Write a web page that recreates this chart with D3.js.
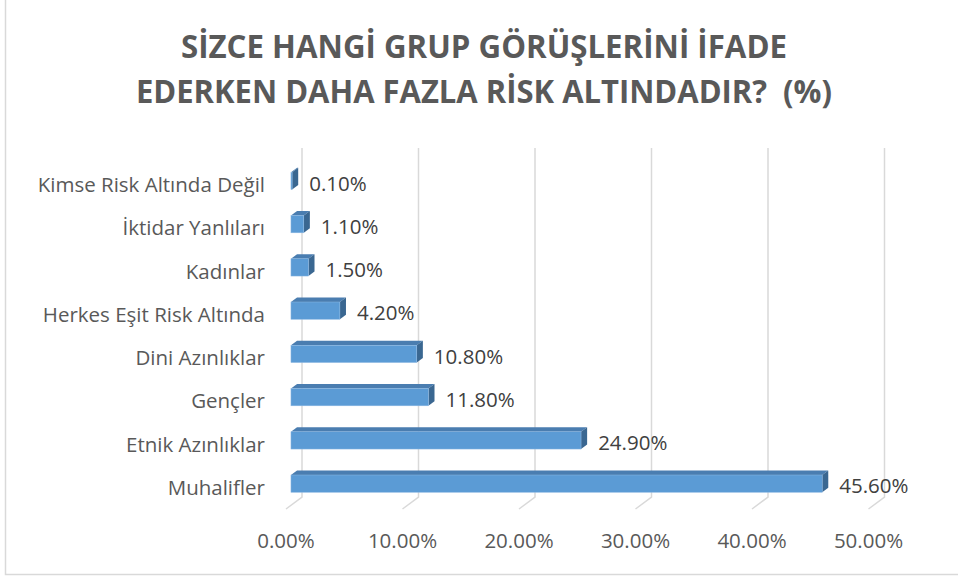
<!DOCTYPE html>
<html>
<head>
<meta charset="utf-8">
<script src="https://cdn.jsdelivr.net/npm/d3@7"></script>
<style>
  body { margin: 0; background: #fff; }
  svg { display: block; font-family: "Open Sans", sans-serif; }
</style>
</head>
<body>
<div id="chart"></div>
<script>
// data, top row first
const titleLines = ["SİZCE HANGİ GRUP GÖRÜŞLERİNİ İFADE", "EDERKEN DAHA FAZLA RİSK ALTINDADIR?  (%)"];
const categories = ["Kimse Risk Altında Değil", "İktidar Yanlıları", "Kadınlar", "Herkes Eşit Risk Altında",
                    "Dini Azınlıklar", "Gençler", "Etnik Azınlıklar", "Muhalifler"];
const values = [0.1, 1.1, 1.5, 4.2, 10.8, 11.8, 24.9, 45.6];
const ticks = [0, 10, 20, 30, 40, 50];

const width = 958, height = 579;

const svg = d3.select("#chart").append("svg")
    .attr("width", width)
    .attr("height", height);

// chart frame (only left + bottom edges show in the picture)
svg.append("rect")
    .attr("x", 5.5).attr("y", -3)
    .attr("width", 970).attr("height", 577.5)
    .attr("fill", "none")
    .attr("stroke", "#d9d9d9")
    .attr("stroke-width", 1.5);

// title
titleLines.forEach((t, i) => {
  svg.append("text")
      .attr("x", 484)
      .attr("y", 58 + i * 45)
      .attr("text-anchor", "middle")
      .attr("textLength", i === 0 ? 606 : 696)
      .attr("lengthAdjust", "spacingAndGlyphs")
      .style("font-size", "32px")
      .style("font-weight", "bold")
      .style("white-space", "pre")
      .attr("fill", "#595959")
      .text(t);
});

// scales on the back wall
const x = d3.scaleLinear().domain([0, 50]).range([302, 884.5]);
const y = d3.scaleBand().domain(categories).range([151, 497]).paddingInner(0.6).paddingOuter(0.3);

// oblique depth: back -> front
const depth = [-16, 12];
const proj = (px, py, d) => [px + depth[0] * d, py + depth[1] * d];
const dBack = 0.31, dFront = 0.69;
const floorY = 497, wallTop = 148;

// gridlines: wall + floor segment
const grid = svg.append("g");
ticks.forEach(t => {
  const f = proj(x(t), floorY, 1);
  grid.append("path")
      .attr("d", `M${x(t)},${wallTop}V${floorY}L${f[0]},${f[1]}`)
      .attr("fill", "none")
      .attr("stroke", "#d9d9d9")
      .attr("stroke-width", 1.5);
  svg.append("text")
      .attr("x", f[0])
      .attr("y", 548)
      .attr("text-anchor", "middle")
      .style("font-size", "20.5px")
      .attr("fill", "#595959")
      .text(d3.format(".2f")(t) + "%");
});

// category labels
svg.append("g").selectAll("text")
    .data(categories)
  .enter().append("text")
    .attr("x", 265)
    .attr("y", d => y(d) + y.bandwidth() / 2 + 19.5)
    .attr("text-anchor", "end")
    .style("font-size", "20.5px")
    .attr("fill", "#595959")
    .text(d => d);

// 3d bars
const pts = arr => arr.map(p => p.join(",")).join(" ");
const bars = svg.append("g").selectAll("g")
    .data(categories.map((c, i) => ({ c, v: values[i] })))
  .enter().append("g");

bars.each(function(d) {
  const g = d3.select(this);
  const x0 = x(0), x1 = x(d.v), y0 = y(d.c), y1 = y(d.c) + y.bandwidth();
  // top face
  g.append("polygon")
      .attr("points", pts([proj(x0, y0, dFront), proj(x1, y0, dFront), proj(x1, y0, dBack), proj(x0, y0, dBack)]))
      .attr("fill", "#4a7db0");
  // right end face
  g.append("polygon")
      .attr("points", pts([proj(x1, y0, dFront), proj(x1, y1, dFront), proj(x1, y1, dBack), proj(x1, y0, dBack)]))
      .attr("fill", "#3a6791");
  // front face
  const f0 = proj(x0, y0, dFront);
  g.append("rect")
      .attr("x", f0[0])
      .attr("y", f0[1])
      .attr("width", x1 - x0)
      .attr("height", y1 - y0)
      .attr("fill", "#5b9bd5")
      .attr("stroke", "#8fb9e3")
      .attr("stroke-width", 0.5);
  // value label
  const b = proj(x1, y0, dBack);
  g.append("text")
      .attr("x", b[0] + 11)
      .attr("y", y0 + y.bandwidth() / 2 + 18)
      .style("font-size", "20.5px")
      .attr("fill", "#404040")
      .text(d3.format(".2f")(d.v) + "%");
});
</script>
</body>
</html>
